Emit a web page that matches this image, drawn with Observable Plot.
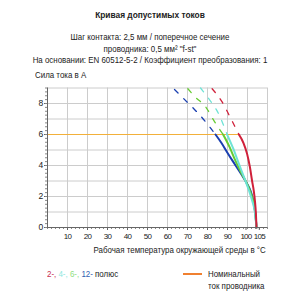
<!DOCTYPE html>
<html><head><meta charset="utf-8">
<script src="https://cdn.jsdelivr.net/npm/d3@7"></script>
<script src="https://cdn.jsdelivr.net/npm/@observablehq/plot@0.6"></script>
<style>
body{margin:0;background:#fff;}
#wrap{position:relative;width:300px;height:300px;overflow:hidden;font-family:"Liberation Sans",Arial,sans-serif;color:#222;}
.t{position:absolute;white-space:nowrap;font-size:9px;line-height:10px;}
.c{left:0;width:300px;text-align:center;transform:scaleX(0.88);transform-origin:150px 0;}
.l{transform:scaleX(0.88);transform-origin:0 0;}
.r{transform:scaleX(0.88);transform-origin:100% 0;}
#chart{position:absolute;left:0;top:72px;}
</style></head><body>
<div id="wrap">
<div class="t c" style="top:10px;font-weight:bold;font-size:9.5px">Кривая допустимых токов</div>
<div class="t c" style="top:32px">Шаг контакта: 2,5 мм / поперечное сечение</div>
<div class="t c" style="top:44px">проводника: 0,5 мм² "f-st"</div>
<div class="t c" style="top:55px">На основании: EN 60512-5-2 / Коэффициент преобразования: 1</div>
<div class="t l" style="top:70px;left:35px">Сила тока в A</div>
<div id="chart"></div>
<div class="t r" style="top:245px;right:34px">Рабочая температура окружающей среды в °C</div>
<div class="t l" style="top:269px;left:47px"><span style="color:#c83050">2-,</span> <span style="color:#8ee8e0">4-,</span> <span style="color:#90e080">6-,</span> <span style="color:#3060b0">12-</span> полюс</div>
<div style="position:absolute;left:183px;top:273px;width:19px;height:2px;background:#f08030"></div>
<div class="t l" style="top:269px;left:208px">Номинальный</div>
<div class="t l" style="top:281px;left:208px">ток проводника</div>
</div>
<script>
// Data
const xTicks = [10, 20, 30, 40, 50, 60, 70, 80, 90];
const xTickNearEnd = [100];
const xTickEnd = [105];
const yTicks = [0, 2, 4, 6, 8];
const nominalCurrent = 6;
const nominalX = [0, 95.7];

const blueSolidX = [84, 87, 89.8, 92.8, 95.7, 98.3, 100.7, 102.2, 103.2, 104, 104.5];
const blueSolidY = [6, 5.45, 4.86, 4.25, 3.68, 3.15, 2.6, 2.1, 1.53, 0.8, 0];
const blueDashX = [63.5, 68.2, 74.8, 79.8, 84];
const blueDashY = [8.9, 8.3, 7.44, 6.7, 6];

const greenSolidX = [87.8, 91, 94, 97, 99.8, 101.8, 103.2, 104, 104.5];
const greenSolidY = [6, 5.2, 4.3, 3.5, 2.8, 2.15, 1.5, 0.8, 0];
const greenDashX = [70.2, 74, 79, 83.2, 87.8];
const greenDashY = [8.95, 8.4, 7.8, 6.9, 6];

const cyanSolidX = [89.8, 93, 95.7, 98.4, 100.7, 102.4, 103.7, 104.5];
const cyanSolidY = [6, 5.05, 4.1, 3.2, 2.4, 1.7, 1.0, 0];
const cyanDashX = [76.5, 80.7, 85.7, 89.8];
const cyanDashY = [9, 8.3, 7.3, 6];

const redSolidX = [95.7, 98, 99.8, 101.2, 102.3, 103.1, 103.7, 104.2, 104.5];
const redSolidY = [6, 5.45, 4.75, 3.9, 3.0, 2.4, 1.74, 0.9, 0];
const redDashX = [82.3, 87.3, 91, 95.7];
const redDashY = [8.95, 8.1, 7.2, 6];

const zip = (xs, ys) => xs.map((x, i) => ({x, y: ys[i]}));
const series = [
  {sx: blueSolidX, sy: blueSolidY, dx: blueDashX, dy: blueDashY, c: "#1a3fb0"},
  {sx: greenSolidX, sy: greenSolidY, dx: greenDashX, dy: greenDashY, c: "#66cc33"},
  {sx: cyanSolidX, sy: cyanSolidY, dx: cyanDashX, dy: cyanDashY, c: "#6fe3d6"},
  {sx: redSolidX, sy: redSolidY, dx: redDashX, dy: redDashY, c: "#d0203a"}
];

const gridX = d3.range(0, 111, 10);
const gridY = d3.range(0, 10, 1);
const minorX = d3.range(0, 111, 2);
const minorY = d3.range(0, 9.01, 0.25);

const marks = [
  Plot.ruleX(gridX, {stroke: "#cccccc", strokeWidth: 1}),
  Plot.ruleY(gridY, {stroke: "#cccccc", strokeWidth: 1}),
  Plot.ruleY([nominalCurrent], {x1: nominalX[0], x2: nominalX[1], stroke: "#f2b03a", strokeWidth: 1.2}),
];
for (const s of series) {
  marks.push(Plot.line(zip(s.dx, s.dy), {x: "x", y: "y", stroke: s.c, strokeWidth: 1.3, strokeDasharray: "5,8", curve: "monotone-x"}));
}
for (const s of series) {
  marks.push(Plot.line(zip(s.sx, s.sy), {x: "x", y: "y", stroke: s.c, strokeWidth: 2, curve: "monotone-x"}));
}
const tickOpts = {tickSize: 3, tickPadding: 3, fontSize: 8, stroke: "#666", label: null};
marks.push(
  Plot.axisX(minorX, {tickSize: 2, text: null, stroke: "#888", label: null}),
  Plot.axisX(xTicks, tickOpts),
  Plot.axisX(xTickNearEnd, {...tickOpts, dx: -1.5}),
  Plot.axisX(xTickEnd, {...tickOpts, dx: 1.8}),
  Plot.axisY(yTicks, {tickSize: 3, tickPadding: 2, fontSize: 8.5, stroke: "#666", label: null}),
  Plot.axisY(minorY, {tickSize: 2, text: null, stroke: "#888", label: null}),
  Plot.ruleX([0], {stroke: "#666"}),
  Plot.ruleY([0], {stroke: "#666"})
);

const chart = Plot.plot({
  width: 300,
  height: 175,
  marginLeft: 47,
  marginRight: 33,
  marginTop: 15.5,
  marginBottom: 20,
  x: {domain: [0, 110], label: null},
  y: {domain: [0, 9], label: null},
  style: {fontFamily: '"Liberation Sans",Arial,sans-serif', fontSize: "8.5px", letterSpacing: "-0.7px", color: "#222", background: "transparent"},
  marks
});
document.getElementById("chart").appendChild(chart);
</script>
</body></html>
